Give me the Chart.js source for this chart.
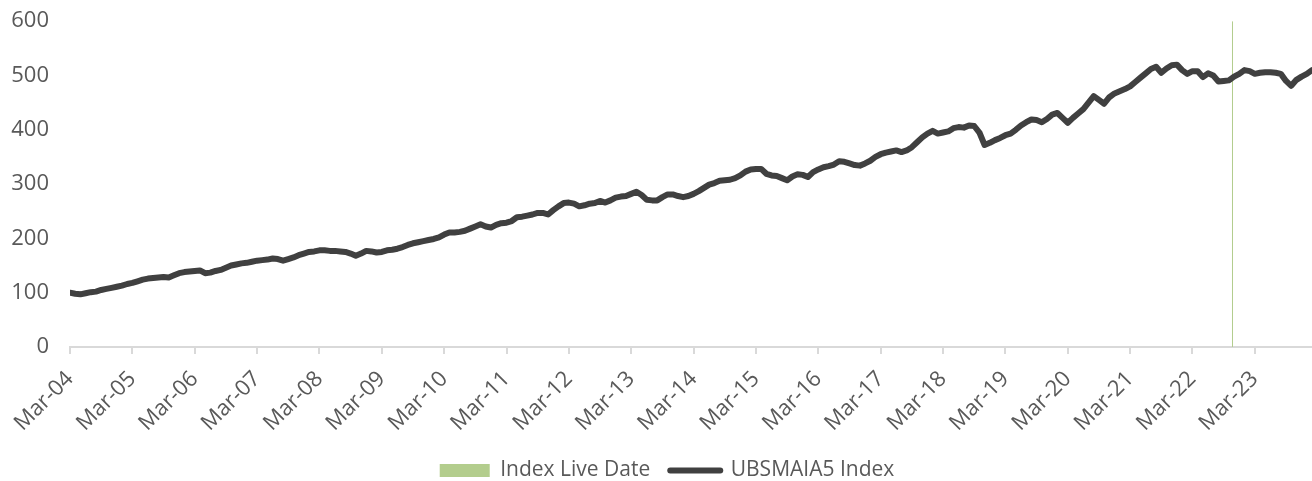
<!DOCTYPE html>
<html>
<head>
<meta charset="utf-8">
<script src="https://cdn.jsdelivr.net/npm/chart.js@4.4.0/dist/chart.umd.min.js"></script>
<style>
  html, body { margin: 0; padding: 0; background: #fff; }
</style>
</head>
<body>
<canvas id="chart" width="1312" height="481"></canvas>
<script>
// tick labels, one per year (every 12 months from Mar-04)
const tickLabels = ['Mar-04', 'Mar-05', 'Mar-06', 'Mar-07', 'Mar-08', 'Mar-09', 'Mar-10',
    'Mar-11', 'Mar-12', 'Mar-13', 'Mar-14', 'Mar-15', 'Mar-16', 'Mar-17', 'Mar-18',
    'Mar-19', 'Mar-20', 'Mar-21', 'Mar-22', 'Mar-23'];

// monthly index level, Mar-04 .. Feb-24
const indexValues = [
    100, 98, 97, 99, 101, 102, 105, 107, 109, 111, 113, 116,
    118, 121, 124, 126, 127, 128, 129, 128, 132, 136, 138, 139,
    140, 141, 136, 137, 140, 142, 146, 150, 152, 154, 155, 157,
    159, 160, 161, 163, 162, 159, 162, 165, 169, 172, 175, 176,
    178, 178, 177, 177, 176, 175, 172, 168, 172, 177, 176, 174,
    175, 178, 179, 181, 184, 188, 191, 193, 195, 197, 199, 202,
    207, 211, 211, 212, 214, 218, 222, 226, 222, 220, 225, 228,
    229, 232, 239, 240, 242, 244, 247, 247, 244, 252, 259, 265,
    266, 264, 259, 261, 264, 265, 269, 266, 270, 275, 277, 278,
    282, 286, 280, 271, 270, 270, 276, 281, 281, 278, 276, 278,
    282, 287, 293, 299, 302, 306, 307, 308, 311, 316, 323, 327,
    328, 328, 319, 316, 315, 311, 307, 314, 318, 317, 313, 322,
    327, 331, 333, 336, 342, 341, 338, 335, 334, 338, 343, 350,
    355, 358, 360, 362, 359, 362, 368, 377, 386, 393, 398, 393,
    395, 397, 403, 405, 404, 408, 407, 395, 372, 376, 381, 385,
    390, 393, 400, 408, 414, 419, 418, 414, 420, 428, 431, 422,
    413, 422, 430, 438, 450, 462, 455, 448, 460, 467, 471, 475,
    480, 488, 496, 504, 512, 516, 505, 513, 519, 520, 510, 503,
    508, 508, 497, 504, 500, 489, 490, 491, 498, 503, 510, 508,
    503, 505, 506, 506, 505, 503, 490, 481, 492, 498, 503, 510
];

// index live date (months after Mar-04, ~Oct-22) and height of its marker
const liveDateMonth = 223.7;
const liveDateRange = [0, 600];

const lineColor = '#404040';
const liveColor = '#b3cd8d';
const textColor = '#595959';
const axisColor = '#d9d9d9';

const linePoints = indexValues.map((v, i) => ({ x: i, y: v }));
const livePoints = liveDateRange.map(v => ({ x: liveDateMonth, y: v }));

// legend sits a little right of centre in the original
const legendShift = {
    id: 'legendShift',
    afterLayout(chart) {
        chart.legend.left += 11;
        chart.legend.right += 11;
    }
};

const ctx = document.querySelector('#chart').getContext('2d');

new Chart(ctx, {
    type: 'line',
    data: {
        datasets: [{
            label: 'Index Live Date',
            data: livePoints,
            borderColor: liveColor,
            backgroundColor: liveColor,
            borderWidth: 1,
            pointRadius: 0,
            order: 2
        }, {
            label: 'UBSMAIA5 Index',
            data: linePoints,
            borderColor: lineColor,
            backgroundColor: lineColor,
            borderWidth: 6,
            borderCapStyle: 'round',
            borderJoinStyle: 'round',
            pointRadius: 0,
            tension: 0,
            order: 1
        }]
    },
    plugins: [legendShift],
    options: {
        responsive: false,
        animation: false,
        devicePixelRatio: 1,
        layout: {
            padding: { top: 0, left: 0, right: 0, bottom: -10 }
        },
        scales: {
            x: {
                type: 'linear',
                min: 0,
                max: indexValues.length - 1,
                afterFit: scale => { scale.height = 93; },
                grid: {
                    display: true,
                    drawOnChartArea: false,
                    drawTicks: true,
                    tickLength: 7,
                    color: axisColor,
                    lineWidth: 2
                },
                border: { display: true, color: axisColor, width: 2 },
                ticks: {
                    stepSize: 12,
                    autoSkip: false,
                    includeBounds: false,
                    minRotation: 45,
                    maxRotation: 45,
                    padding: 12,
                    color: textColor,
                    font: { family: 'Open Sans', size: 22 },
                    callback: value => value % 12 === 0 ? tickLabels[value / 12] : null
                }
            },
            y: {
                min: 0,
                max: 600,
                afterFit: scale => { scale.width = 70; },
                grid: { display: false, drawTicks: true, tickLength: 13 },
                border: { display: false },
                ticks: {
                    stepSize: 100,
                    padding: 8,
                    color: textColor,
                    font: { family: 'Open Sans', size: 22 }
                }
            }
        },
        plugins: {
            tooltip: { enabled: false },
            legend: {
                position: 'bottom',
                labels: {
                    usePointStyle: true,
                    pointStyleWidth: 50,
                    boxHeight: 13,
                    padding: 20,
                    color: textColor,
                    font: { family: 'Open Sans', size: 21 },
                    generateLabels: () => [{
                        text: 'Index Live Date',
                        fillStyle: liveColor,
                        strokeStyle: liveColor,
                        lineWidth: 0,
                        pointStyle: 'rect',
                        fontColor: textColor,
                        datasetIndex: 0
                    }, {
                        text: 'UBSMAIA5 Index',
                        fillStyle: lineColor,
                        strokeStyle: lineColor,
                        lineWidth: 6,
                        lineCap: 'round',
                        pointStyle: 'line',
                        fontColor: textColor,
                        datasetIndex: 1
                    }]
                }
            }
        }
    }
});
</script>
</body>
</html>
